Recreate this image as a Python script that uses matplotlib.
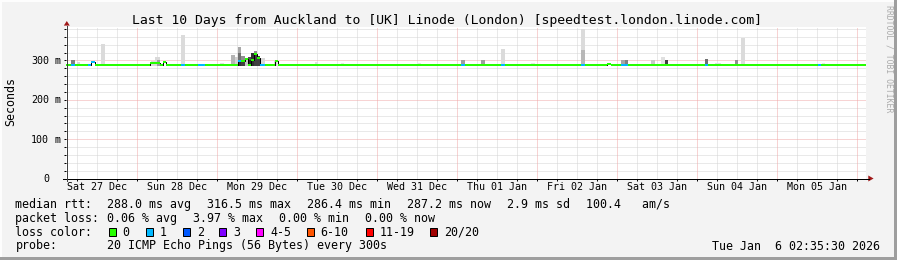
import matplotlib
matplotlib.use("Agg")
import matplotlib.pyplot as plt
import matplotlib.transforms as mtransforms
from matplotlib.patches import Rectangle, Polygon
from matplotlib.lines import Line2D
import numpy as np

# ---------------- data ----------------
title = "Last 10 Days from Auckland to [UK] Linode (London) [speedtest.london.linode.com]"
window_hours = 240.0          # 10 days, window start = Sat 27 Dec 02:35:30
first_midnight_h = 21.425     # hours from window start to Sun 28 Dec 00:00
day_labels = ["Sat 27 Dec", "Sun 28 Dec", "Mon 29 Dec", "Tue 30 Dec", "Wed 31 Dec",
              "Thu 01 Jan", "Fri 02 Jan", "Sat 03 Jan", "Sun 04 Jan", "Mon 05 Jan"]
ytick_values = [0.0, 0.1, 0.2, 0.3]
ytick_numbers = ["0", "100", "200", "300"]
ytick_units = ["", "m", "m", "m"]

baseline_median_ms = 288.0

# median rtt segments that differ from the baseline (hours since window start)
med_start = [1.5, 6.6, 7.5, 25.2, 29.1, 34.5, 39.6, 51.6, 52.5, 53.7, 55.5, 56.4, 57.3,
             58.2, 62.7, 118.5, 130.5, 154.5, 162.3, 166.5, 191.7, 225.6]
med_end = [2.7, 7.5, 8.7, 28.2, 30.0, 35.7, 41.7, 52.5, 53.7, 54.6, 56.4, 57.3, 58.2,
           59.7, 63.6, 119.7, 131.7, 155.7, 163.5, 168.6, 192.6, 226.5]
med_ms = [288, 288, 296, 294, 296, 288, 288, 300, 300, 305, 302, 316, 307,
          288, 298, 288, 288, 288, 290, 288, 288, 288]
med_loss = [1, 1, 1, 0, 0, 1, 1, 1, 0, 0, 0, 0, 0,
            1, 0, 1, 1, 1, 0, 1, 1, 1]

# smoke (ping spread) bars: start/end hours, top rtt in ms, density (0 light .. 1 dark)
smoke_start = [1.5, 3.3, 10.5, 25.5, 26.7, 27.3, 34.5, 46.2, 49.5, 50.7, 51.6, 51.6, 51.6,
               52.5, 52.5, 53.7, 54.6, 54.6, 55.5, 56.4, 56.4, 57.3, 58.2, 62.4, 74.7,
               82.5, 98.7, 105.6, 118.5, 124.5, 130.5, 139.5, 154.5, 154.5, 166.5, 167.7,
               175.5, 178.5, 179.7, 191.7, 194.7, 200.7, 202.5, 222.6, 226.8]
smoke_end = [2.7, 4.2, 11.7, 26.7, 28.2, 28.2, 35.7, 47.4, 50.7, 51.6, 52.5, 52.5, 52.5,
             53.7, 53.7, 54.6, 55.5, 55.5, 56.4, 57.3, 57.3, 58.2, 59.7, 63.3, 75.6,
             83.4, 99.3, 106.5, 119.7, 125.7, 131.7, 140.7, 155.7, 155.7, 167.7, 168.6,
             176.7, 179.7, 180.6, 192.6, 196.5, 201.6, 203.7, 223.5, 227.7]
smoke_top_ms = [300, 295, 343, 298, 308, 302, 364, 293, 313, 309, 334, 318, 300,
                312, 298, 306, 310, 302, 318, 323, 314, 312, 307, 300, 295,
                293, 292, 293, 300, 300, 329, 293, 381, 326, 300, 300,
                300, 308, 300, 305, 294, 300, 356, 292, 293]
smoke_density = [0.50, 0.15, 0.14, 0.15, 0.15, 0.38, 0.14, 0.12, 0.30, 0.18, 0.34, 0.56, 0.80,
                 0.44, 0.75, 0.22, 0.69, 0.85, 0.81, 0.44, 0.75, 0.75, 0.15, 0.15, 0.12,
                 0.10, 0.10, 0.10, 0.38, 0.38, 0.14, 0.10, 0.14, 0.28, 0.35, 0.50,
                 0.22, 0.12, 0.75, 0.56, 0.12, 0.44, 0.14, 0.10, 0.10]
smoke_floor_ms = 286.0

loss_labels = ["0", "1", "2", "3", "4-5", "6-10", "11-19", "20/20"]
loss_upper = [0, 1, 2, 3, 5, 10, 19, 20]
loss_colors = ["#26ff00", "#00b8ff", "#0059ff", "#7e00ff", "#ff00ff", "#ff5500", "#ff0000", "#a00000"]

rtt_label = "median rtt:"
rtt_stats = ["288.0 ms avg", "316.5 ms max", "286.4 ms min", "287.2 ms now", "2.9 ms sd", "100.4   am/s"]
loss_label = "packet loss:"
loss_stats = ["0.06 % avg", "3.97 % max", "0.00 % min", "0.00 % now"]
color_label = "loss color:"
probe_label = "probe:"
probe_text = "20 ICMP Echo Pings (56 Bytes) every 300s"
timestamp = "Tue Jan  6 02:35:30 2026"
watermark = "RRDTOOL / TOBI OETIKER"

# ---------------- figure ----------------
W, H, DPI = 897, 260, 100
plt.rcParams["font.family"] = ["DejaVu Sans Mono", "DejaVu Sans"]
PX = 72.0 / DPI  # points per pixel

fig = plt.figure(figsize=(W / DPI, H / DPI), dpi=DPI, facecolor="#f3f3f3")

plot_left, plot_right = 66.0, 866.0
plot_top, plot_bottom = 26.5, 178.5
px_per_s = (178.5 - 60.5) / 0.3
ymax = (plot_bottom - plot_top) / px_per_s

ax = fig.add_axes([plot_left / W, (H - plot_bottom) / H,
                   (plot_right - plot_left) / W, (plot_bottom - plot_top) / H])
ax.set_facecolor("white")
ax.set_xlim(0, window_hours)
ax.set_ylim(0, ymax)
for s in ax.spines.values():
    s.set_visible(False)
ax.set_zorder(1)

# grid
dot = (0, (1, 1))
minor_c, major_c = "#d4d4d4", "#f0a8a8"
for v in np.arange(0.02, ymax, 0.02):
    if abs(v / 0.1 - round(v / 0.1)) < 1e-6:
        ax.axhline(v, color=major_c, lw=PX, ls=dot, zorder=0.6, snap=True)
    else:
        ax.axhline(v, color=minor_c, lw=PX, ls=dot, zorder=0.5, snap=True)
minor_x = np.arange(first_midnight_h - 18, window_hours, 6.0)
major_x = np.arange(first_midnight_h, window_hours, 24.0)
for h in minor_x:
    if not np.any(np.isclose(h, major_x)):
        ax.axvline(h, color=minor_c, lw=PX, ls=dot, zorder=0.5, snap=True)
for h in major_x:
    ax.axvline(h, color=major_c, lw=PX, ls=dot, zorder=0.6, snap=True)

# smoke
for s0, s1, top, d in zip(smoke_start, smoke_end, smoke_top_ms, smoke_density):
    g = 1.0 - d
    ax.bar(s0, (top - smoke_floor_ms) / 1000.0, width=s1 - s0, bottom=smoke_floor_ms / 1000.0,
           align="edge", color=(g, g, g), linewidth=0, zorder=2)

# median line
order = np.argsort(med_start)
segs = []
t = 0.0
for i in order:
    if med_start[i] > t:
        segs.append((t, med_start[i], baseline_median_ms, 0))
    segs.append((med_start[i], med_end[i], med_ms[i], med_loss[i]))
    t = med_end[i]
if t < window_hours:
    segs.append((t, window_hours, baseline_median_ms, 0))

xs, ys = [], []
for s0, s1, v, _ in segs:
    xs += [s0, s1]
    ys += [v / 1000.0, v / 1000.0]
ax.plot(xs, ys, color="black", lw=PX, zorder=3, solid_capstyle="butt")


def loss_index(n):
    for i, u in enumerate(loss_upper):
        if n <= u:
            return i
    return len(loss_upper) - 1


ax.hlines([v / 1000.0 for _, _, v, _ in segs], [s[0] for s in segs], [s[1] for s in segs],
          colors=[loss_colors[loss_index(l)] for *_, l in segs], linewidth=2 * PX,
          capstyle="butt", zorder=4)

# ticks
ax.set_xticks(first_midnight_h - 12 + 24.0 * np.arange(len(day_labels)), day_labels)
ax.set_xticks(minor_x, minor=True)
ax.tick_params(axis="x", which="major", length=0, pad=2.3, labelsize=7.2, colors="black")
ax.tick_params(axis="x", which="minor", length=2 * PX, width=PX, direction="out", color="black")
ax.set_yticks([])
ax.set_yticks(np.arange(0.02, ymax, 0.02), minor=True)
ax.tick_params(axis="y", which="minor", length=2 * PX, width=PX, direction="out", color="black")

# overlay in pixel coordinates
ov = fig.add_axes([0, 0, 1, 1])
ov.set_xlim(0, W)
ov.set_ylim(H, 0)
ov.axis("off")
ov.patch.set_alpha(0)
ov.set_zorder(2)

# frame shading
ov.add_patch(Rectangle((0, 0), W, 1.5, color="#fdfdfd", lw=0))
ov.add_patch(Rectangle((0, 0), 1.5, H, color="#fdfdfd", lw=0))
ov.add_patch(Rectangle((0, H - 3), W, 3, color="#9e9e9e", lw=0))
ov.add_patch(Rectangle((W - 3, 0), 3, H, color="#9e9e9e", lw=0))

# axes lines and arrows
ov.add_line(Line2D([63, 868.5], [178.5, 178.5], color="black", lw=PX))
ov.add_line(Line2D([66.5, 66.5], [181, 25.5], color="#404040", lw=PX))
arrow_c = "#a01818"
ov.add_patch(Polygon([[63.8, 25.6], [69.8, 25.6], [66.8, 21.0]], closed=True, color=arrow_c, lw=0))
ov.add_patch(Polygon([[868.3, 175.5], [868.3, 181.5], [873.6, 178.5]], closed=True, color=arrow_c, lw=0))

# title, axis label, watermark
ov.text(447.5, 24.0, title, ha="center", va="baseline", fontsize=9.45, color="black")
ov.text(11.0, 102.0, "Seconds", rotation=90, ha="center", va="center", fontsize=8.4, color="black")
ov.text(888.5, 5.0, watermark, rotation=270, ha="center", va="top", fontsize=5.9, color="#ababab")

# y tick labels (x in pixels, y in data)
ytrans = mtransforms.blended_transform_factory(ov.transData, ax.transData)
ytrans = mtransforms.offset_copy(ytrans, fig=fig, x=0, y=-3.6 * PX, units="points")
for v, num, unit in zip(ytick_values, ytick_numbers, ytick_units):
    ov.text(49.0, v, num, transform=ytrans, ha="right", va="baseline", fontsize=7.2, color="black")
    if unit:
        ov.text(54.6, v, unit, transform=ytrans, ha="left", va="baseline", fontsize=7.2, color="black")

# legend
LFS = 8.4
rows_y = [207.7, 221.7, 235.7, 249.5]
ov.text(15.4, rows_y[0], rtt_label, fontsize=LFS, va="baseline")
for x, s in zip([106.7, 206.7, 306.7, 406.7, 506.7, 586.1], rtt_stats):
    ov.text(x, rows_y[0], s, fontsize=LFS, va="baseline")
ov.text(15.4, rows_y[1], loss_label, fontsize=LFS, va="baseline")
for x, s in zip([106.7, 192.9, 279.1, 365.3], loss_stats):
    ov.text(x, rows_y[1], s, fontsize=LFS, va="baseline")
ov.text(15.4, rows_y[2], color_label, fontsize=LFS, va="baseline")
for x, lab, c in zip([108.7, 145.7, 182.7, 219.3, 256.0, 306.7, 365.7, 430.0], loss_labels, loss_colors):
    ov.add_patch(Rectangle((x, 228.3), 7.0, 8.0, facecolor=c, edgecolor="black", lw=PX))
    ov.text(x + 14.0, rows_y[2], lab, fontsize=LFS, va="baseline")
ov.text(15.4, rows_y[3], probe_label, fontsize=LFS, va="baseline")
ov.text(106.7, rows_y[3], probe_text, fontsize=LFS, va="baseline")
ov.text(880.0, rows_y[3], timestamp, fontsize=LFS, va="baseline", ha="right")

fig.savefig("out.png", dpi=DPI, facecolor=fig.get_facecolor())
